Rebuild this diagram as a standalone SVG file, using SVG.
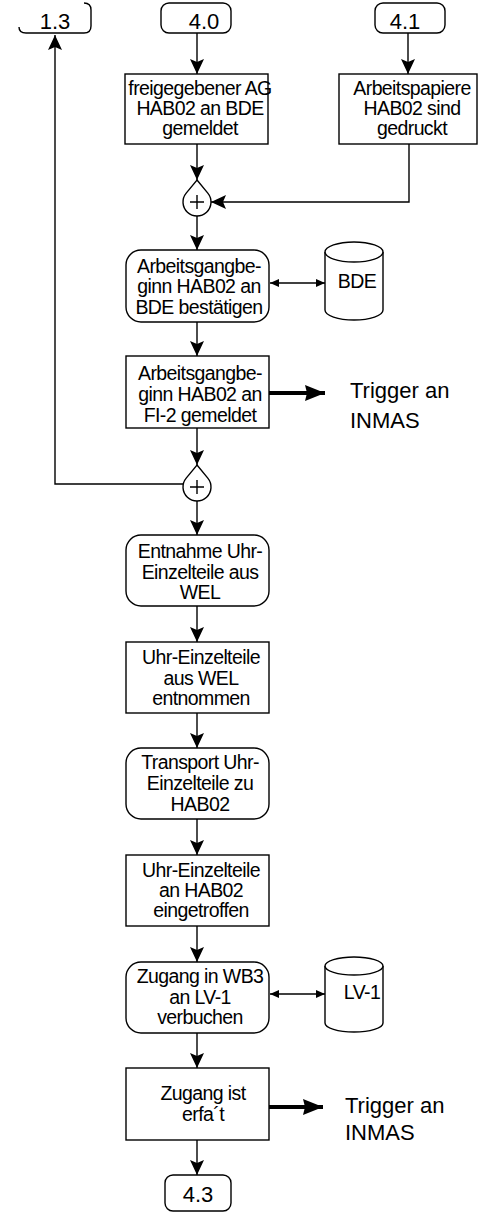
<svg xmlns="http://www.w3.org/2000/svg" width="479" height="1216" viewBox="0 0 479 1216">
<style>
.box{fill:#fff;stroke:#000;stroke-width:1.4}
.ln{fill:none;stroke:#000;stroke-width:1.4}
.t{font-family:"Liberation Sans",Arial,sans-serif;font-size:19.5px;letter-spacing:-0.6px;fill:#000;text-anchor:middle}
.c{font-family:"Liberation Sans",Arial,sans-serif;font-size:22px;fill:#000;text-anchor:middle}
.big{font-family:"Liberation Sans",Arial,sans-serif;font-size:22px;fill:#000}
</style>
<defs>
<marker id="ah" viewBox="0 0 15 14" refX="15" refY="7" markerWidth="15" markerHeight="14" markerUnits="userSpaceOnUse" orient="auto">
<path d="M0,0 L15,7 L0,14 L3,7 z" fill="#000"/>
</marker>
<marker id="sm" viewBox="0 0 9 8" refX="9" refY="4" markerWidth="9" markerHeight="8" markerUnits="userSpaceOnUse" orient="auto-start-reverse">
<path d="M0,0 L9,4 L0,8 z" fill="#000"/>
</marker>
<marker id="th" viewBox="0 0 20 16" refX="20" refY="8" markerWidth="20" markerHeight="16" markerUnits="userSpaceOnUse" orient="auto">
<path d="M0,0 L20,8 L0,16 L2,8 z" fill="#000"/>
</marker>
</defs>

<g id="connectors">
<path class="ln" d="M197,33 V74" marker-end="url(#ah)"/>
<path class="ln" d="M408,33 V74" marker-end="url(#ah)"/>
<path class="ln" d="M197,144 V180" marker-end="url(#ah)"/>
<path class="ln" d="M409,144 V202 H211" marker-end="url(#ah)"/>
<path class="ln" d="M197,216 V250" marker-end="url(#ah)"/>
<path class="ln" d="M270,283 H325" marker-start="url(#sm)" marker-end="url(#sm)"/>
<path class="ln" d="M197,322 V356" marker-end="url(#ah)"/>
<path fill="none" stroke="#000" stroke-width="4" d="M269,393 H325" marker-end="url(#th)"/>
<path class="ln" d="M197,428 V465" marker-end="url(#ah)"/>
<path class="ln" d="M183,484 H55 V35" marker-end="url(#ah)"/>
<path class="ln" d="M197,501 V535" marker-end="url(#ah)"/>
<path class="ln" d="M197,606 V642" marker-end="url(#ah)"/>
<path class="ln" d="M197,713 V748" marker-end="url(#ah)"/>
<path class="ln" d="M197,819 V855" marker-end="url(#ah)"/>
<path class="ln" d="M197,926 V962" marker-end="url(#ah)"/>
<path class="ln" d="M270,994 H325" marker-start="url(#sm)" marker-end="url(#sm)"/>
<path class="ln" d="M197,1033 V1068" marker-end="url(#ah)"/>
<path fill="none" stroke="#000" stroke-width="4" d="M269,1107 H323" marker-end="url(#th)"/>
<path class="ln" d="M197,1140 V1175" marker-end="url(#ah)"/>
</g>

<g id="n13">
<path class="ln" d="M19,27 Q19,33 26,33 H84 Q91,33 91,26 V10 Q91,3 84,3"/>
<text class="c" x="55" y="29">1.3</text>
</g>
<g id="n40">
<rect class="box" x="161" y="3" width="70" height="30" rx="8"/>
<text class="c" x="204" y="29">4.0</text>
</g>
<g id="n41">
<rect class="box" x="375" y="3" width="70" height="30" rx="8"/>
<text class="c" x="405" y="29">4.1</text>
</g>
<g id="e1">
<rect class="box" x="125" y="74" width="143" height="70"/>
<text class="t" x="200" y="95">freigegebener AG</text>
<text class="t" x="200" y="115">HAB02 an BDE</text>
<text class="t" x="200" y="135">gemeldet</text>
</g>
<g id="e2">
<rect class="box" x="339" y="74" width="138" height="70"/>
<text class="t" x="412" y="95">Arbeitspapiere</text>
<text class="t" x="412" y="115">HAB02 sind</text>
<text class="t" x="412" y="135">gedruckt</text>
</g>
<g id="and1">
<path class="box" d="M197,180 L207.8,193.1 A14,14 0 1,1 186.2,193.1 Z"/>
<path class="ln" d="M190,202 H204 M197,195 V209"/>
</g>
<g id="f1">
<rect class="box" x="126" y="250" width="143" height="72" rx="15"/>
<text class="t" x="199" y="273">Arbeitsgangbe-</text>
<text class="t" x="199" y="293">ginn HAB02 an</text>
<text class="t" x="199" y="314">BDE bestätigen</text>
</g>
<g id="bde">
<path class="box" d="M325,252 V310 A29,10 0 0,0 383,310 V252"/>
<ellipse class="box" cx="354" cy="252" rx="29" ry="10"/>
<text class="t" x="357" y="288">BDE</text>
</g>
<g id="e3">
<rect class="box" x="126" y="356" width="143" height="72"/>
<text class="t" x="200" y="380">Arbeitsgangbe-</text>
<text class="t" x="200" y="401">ginn HAB02 an</text>
<text class="t" x="200" y="422">FI-2 gemeldet</text>
</g>
<g id="trig1">
<text class="big" x="350" y="398">Trigger an</text>
<text class="big" x="350" y="428">INMAS</text>
</g>
<g id="and2">
<path class="box" d="M197,465 L207.8,478.1 A14,14 0 1,1 186.2,478.1 Z"/>
<path class="ln" d="M190,487 H204 M197,480 V494"/>
</g>
<g id="f2">
<rect class="box" x="126" y="535" width="143" height="71" rx="15"/>
<text class="t" x="200" y="558">Entnahme Uhr-</text>
<text class="t" x="200" y="579">Einzelteile aus</text>
<text class="t" x="200" y="599">WEL</text>
</g>
<g id="e4">
<rect class="box" x="126" y="642" width="143" height="71"/>
<text class="t" x="201" y="664">Uhr-Einzelteile</text>
<text class="t" x="201" y="685">aus WEL</text>
<text class="t" x="201" y="705">entnommen</text>
</g>
<g id="f3">
<rect class="box" x="126" y="748" width="143" height="71" rx="15"/>
<text class="t" x="200" y="769">Transport Uhr-</text>
<text class="t" x="200" y="790">Einzelteile zu</text>
<text class="t" x="200" y="811">HAB02</text>
</g>
<g id="e5">
<rect class="box" x="126" y="855" width="143" height="71"/>
<text class="t" x="201" y="877">Uhr-Einzelteile</text>
<text class="t" x="201" y="897">an HAB02</text>
<text class="t" x="201" y="917">eingetroffen</text>
</g>
<g id="f4">
<rect class="box" x="126" y="962" width="143" height="71" rx="15"/>
<text class="t" x="200" y="983">Zugang in WB3</text>
<text class="t" x="200" y="1004">an LV-1</text>
<text class="t" x="200" y="1024">verbuchen</text>
</g>
<g id="lv1">
<path class="box" d="M325,966 V1023 A29,9 0 0,0 383,1023 V966"/>
<ellipse class="box" cx="354" cy="966" rx="29" ry="9"/>
<text class="t" x="362" y="999">LV-1</text>
</g>
<g id="e6">
<rect class="box" x="126" y="1068" width="143" height="72"/>
<text class="t" x="203" y="1100">Zugang ist</text>
<text class="t" x="203" y="1121">erfa´t</text>
</g>
<g id="trig2">
<text class="big" x="345" y="1113">Trigger an</text>
<text class="big" x="345" y="1140">INMAS</text>
</g>
<g id="n43">
<rect class="box" x="165" y="1175" width="66" height="36" rx="8"/>
<text class="c" x="198" y="1202">4.3</text>
</g>
</svg>
